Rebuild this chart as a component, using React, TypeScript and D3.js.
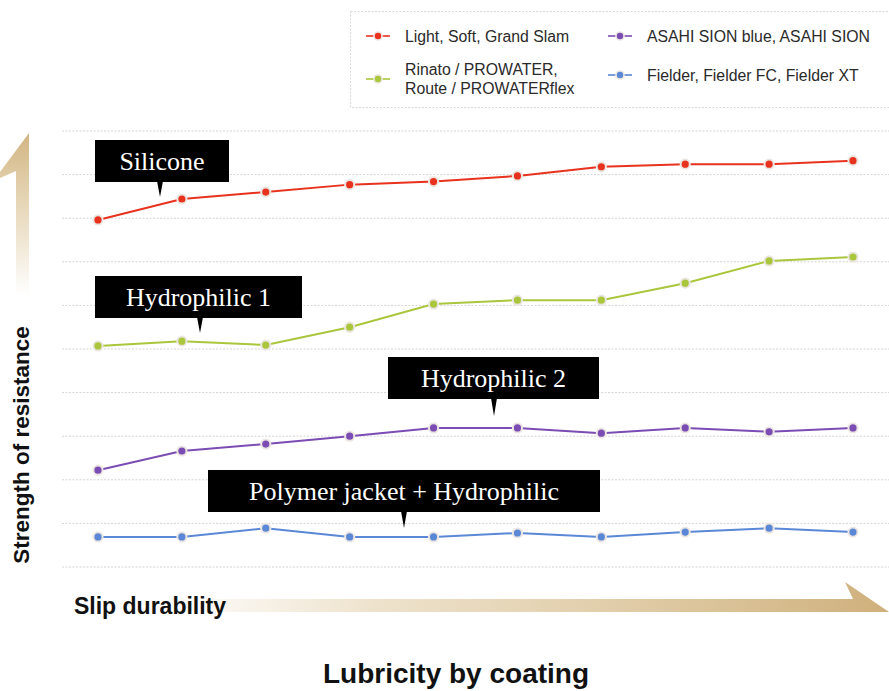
import React from "react";
import * as d3 from "d3";

const steps = [1, 2, 3, 4, 5, 6, 7, 8, 9, 10];
const gridLevels = [0, 1, 2, 3, 4, 5, 6, 7, 8, 9, 10];

const silicone = [7.96, 8.44, 8.6, 8.77, 8.84, 8.97, 9.18, 9.24, 9.24, 9.32];
const hydrophilic1 = [5.07, 5.18, 5.09, 5.5, 6.03, 6.12, 6.12, 6.51, 7.02, 7.11];
const hydrophilic2 = [2.22, 2.66, 2.82, 3.0, 3.19, 3.19, 3.07, 3.19, 3.1, 3.19];
const polymer = [0.69, 0.69, 0.89, 0.69, 0.69, 0.78, 0.69, 0.8, 0.89, 0.8];

const seriesNames = [
  ["Light, Soft, Grand Slam"],
  ["Rinato / PROWATER,", "Route / PROWATERflex"],
  ["ASAHI SION blue, ASAHI SION"],
  ["Fielder, Fielder FC, Fielder XT"],
];
const seriesColors = ["#e8321e", "#a9c63c", "#7b4cb3", "#5b88d6"];
const seriesValues = [silicone, hydrophilic1, hydrophilic2, polymer];

const calloutLabels = ["Silicone", "Hydrophilic 1", "Hydrophilic 2", "Polymer jacket + Hydrophilic"];

const yAxisTitle = "Strength of resistance";
const xArrowLabel = "Slip durability";
const xTitle = "Lubricity by coating";

const W = 889;
const H = 691;

export default function App() {
  const x = d3.scalePoint<number>().domain(steps).range([98, 853]);
  const y = d3.scaleLinear().domain([0, 10]).range([567, 131]);
  const line = d3
    .line<number>()
    .x((_, i) => x(steps[i]) as number)
    .y((d) => y(d));

  const callouts = [
    { box: [95, 140, 134], tip: [160, 197] },
    { box: [95, 276, 207], tip: [200, 333] },
    { box: [388, 357, 211], tip: [494, 416] },
    { box: [208, 470, 392], tip: [404, 528] },
  ];
  const boxH = 42;

  const legendPos = [
    [378, 36],
    [378, 79],
    [620, 36],
    [620, 75],
  ];

  const sans = "'Liberation Sans', Arial, Helvetica, sans-serif";

  return (
    <svg
      width={W}
      height={H}
      viewBox={`0 0 ${W} ${H}`}
      style={{ position: "absolute", left: 0, top: 0, background: "#fff" }}
    >
      <defs>
        <linearGradient id="vArrow" x1="0" y1="1" x2="0" y2="0">
          <stop offset="0" stopColor="#d8be8c" stopOpacity="0" />
          <stop offset="0.35" stopColor="#d8be8c" stopOpacity="0.4" />
          <stop offset="1" stopColor="#d2b582" stopOpacity="1" />
        </linearGradient>
        <linearGradient id="hArrow" x1="0" y1="0" x2="1" y2="0">
          <stop offset="0" stopColor="#d8be8c" stopOpacity="0" />
          <stop offset="0.3" stopColor="#d8be8c" stopOpacity="0.45" />
          <stop offset="1" stopColor="#cfb07c" stopOpacity="1" />
        </linearGradient>
      </defs>
      <rect x={0} y={0} width={W} height={H} fill="#fff" />

      <path d="M16,295 L16,171 L0,178 L0,172 L29,133 L29,295 Z" fill="url(#vArrow)" />
      <path d="M160,599 L853,599 L845,582 L889,612 L160,612 Z" fill="url(#hArrow)" />

      {gridLevels.map((g) => (
        <line
          key={g}
          x1={62}
          x2={889}
          y1={y(g)}
          y2={y(g)}
          stroke="#d4d4d4"
          strokeWidth={1}
          strokeDasharray="2,1.5"
        />
      ))}

      {seriesValues.map((vals, si) => (
        <g key={si}>
          <path d={line(vals) || ""} fill="none" stroke={seriesColors[si]} strokeWidth={2} />
          {vals.map((v, i) => (
            <circle
              key={i}
              cx={x(steps[i])}
              cy={y(v)}
              r={4.6}
              fill={seriesColors[si]}
              stroke="#ece6e2"
              strokeWidth={2}
            />
          ))}
        </g>
      ))}

      {callouts.map((c, i) => {
        const [bx, by, bw] = c.box;
        const [tx, ty] = c.tip;
        return (
          <g key={i}>
            <rect x={bx} y={by} width={bw} height={boxH} fill="#000" />
            <path d={`M${tx - 3},${by + boxH - 1} L${tx + 3},${by + boxH - 1} L${tx},${ty} Z`} fill="#000" />
            <text
              x={bx + bw / 2}
              y={by + boxH / 2 + 8.5}
              textAnchor="middle"
              fill="#fff"
              fontFamily="'Liberation Serif', 'DejaVu Serif', serif"
              fontSize={26}
            >
              {calloutLabels[i]}
            </text>
          </g>
        );
      })}

      <rect
        x={350.5}
        y={11.5}
        width={540}
        height={96}
        fill="#fff"
        stroke="#d8d8d8"
        strokeDasharray="2,1.5"
      />
      {seriesNames.map((lines, i) => {
        const [lx, ly] = legendPos[i];
        return (
          <g key={i} fontFamily={sans} fontSize={15.8} fill="#2a2a2a">
            <line x1={lx - 12} x2={lx + 12} y1={ly} y2={ly} stroke={seriesColors[i]} strokeWidth={1.6} />
            <circle cx={lx} cy={ly} r={4} fill={seriesColors[i]} stroke="#ece6e2" strokeWidth={1.6} />
            {lines.map((t, k) => (
              <text key={k} x={lx + 27} y={ly + 5.5 + (k - (lines.length - 1) / 2) * 19}>
                {t}
              </text>
            ))}
          </g>
        );
      })}

      <text
        transform={`translate(29,445) rotate(-90)`}
        textAnchor="middle"
        fontFamily={sans}
        fontWeight="bold"
        fontSize={22.5}
        fill="#111"
      >
        {yAxisTitle}
      </text>
      <text x={74} y={614} fontFamily={sans} fontWeight="bold" fontSize={23} fill="#111">
        {xArrowLabel}
      </text>
      <text x={456} y={683} textAnchor="middle" fontFamily={sans} fontWeight="bold" fontSize={28} fill="#111">
        {xTitle}
      </text>
    </svg>
  );
}
